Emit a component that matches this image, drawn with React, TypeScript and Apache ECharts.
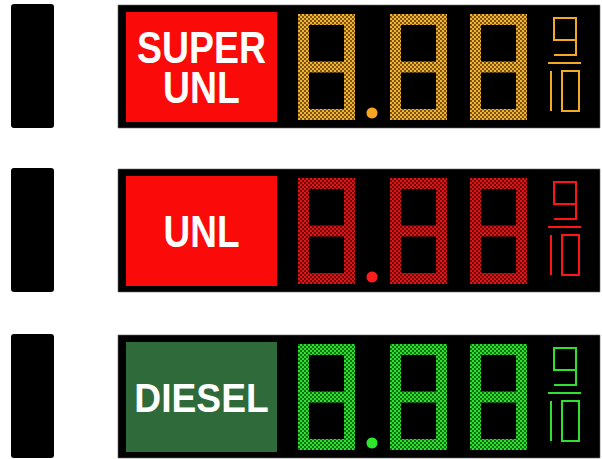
import React, { useEffect, useRef } from "react";
import * as echarts from "echarts";

// ---- data ----
const PANEL_LABELS = ["SUPER\nUNL", "UNL", "DIESEL"];
const PRICE_TEXT = "8.88";
const FRACTION_NUM = "9";
const FRACTION_DEN = "10";

// ---- styles ----
const BOX_COLORS = ["#fb0a0a", "#fb0a0a", "#2f6a3a"];
const LED_BRIGHT = ["#f2b232", "#e01414", "#2ee02e"];
const LED_DARK = ["#7a5410", "#6e0a0a", "#0f6e0f"];
const DOT_COLORS = ["#f6a623", "#ff1c1c", "#2ee62e"];
const FRAC_COLORS = ["#f2aa22", "#ff1414", "#30e030"];
const LABEL_STYLE = [
  { fontSize: 44, scaleX: 0.85, lineHeight: 40 },
  { fontSize: 44, scaleX: 0.84, lineHeight: 40 },
  { fontSize: 40, scaleX: 0.93, lineHeight: 40 },
];
const PANEL_TOPS = [5, 169, 335];

const SEGMENTS: Record<string, string> = { "8": "abcdefg", "9": "abcdfg", "0": "abcdef", "1": "bc" };

function ledPattern(bright: string, dark: string) {
  const c = document.createElement("canvas");
  c.width = 4;
  c.height = 4;
  const ctx = c.getContext("2d")!;
  ctx.fillStyle = dark;
  ctx.fillRect(0, 0, 4, 4);
  ctx.fillStyle = bright;
  ctx.fillRect(0, 0, 2, 2);
  ctx.fillRect(2, 2, 2, 2);
  return { image: c.toDataURL(), repeat: "repeat", imageWidth: 4, imageHeight: 4 } as any;
}

function digitRects(ch: string, dx: number, dy: number, w: number, h: number, t: number) {
  const segs = SEGMENTS[ch] || "";
  const half = h / 2;
  const map: Record<string, number[]> = {
    a: [dx, dy, w, t],
    d: [dx, dy + h - t, w, t],
    g: [dx, dy + (h - t) / 2, w, t],
    f: [dx, dy, t, half + t / 2],
    b: [dx + w - t, dy, t, half + t / 2],
    e: [dx, dy + half - t / 2, t, half + t / 2],
    c: [dx + w - t, dy + half - t / 2, t, half + t / 2],
  };
  return segs.split("").map((s) => map[s]);
}

export default function App() {
  const ref = useRef<HTMLDivElement>(null);
  useEffect(() => {
    const chart = echarts.init(ref.current!, null, { renderer: "svg" });
    const elements: any[] = [];
    PANEL_TOPS.forEach((top, i) => {
      // left post
      elements.push({
        type: "rect",
        shape: { x: 11, y: top - 1, width: 43, height: 124, r: 3 },
        style: { fill: "#000" },
      });
      // panel
      elements.push({
        type: "rect",
        shape: { x: 118, y: top, width: 482, height: 123 },
        style: { fill: "#000", stroke: "#6a6a6a", lineWidth: 0.6 },
      });
      // label box
      elements.push({
        type: "rect",
        shape: { x: 126, y: top + 7, width: 151, height: 110 },
        style: { fill: BOX_COLORS[i] },
      });
      const ls = LABEL_STYLE[i];
      elements.push({
        type: "text",
        x: 201.5,
        y: top + 63,
        scaleX: ls.scaleX,
        style: {
          text: PANEL_LABELS[i],
          fill: "#ffffff",
          fontFamily: "Liberation Sans, Arial, sans-serif",
          fontWeight: "bold",
          fontSize: ls.fontSize,
          lineHeight: ls.lineHeight,
          textAlign: "center",
          textVerticalAlign: "middle",
        },
      });
      // price digits
      const pat = ledPattern(LED_BRIGHT[i], LED_DARK[i]);
      let x = 298;
      const dw = 57, dh = 106, th = 11, dyTop = top + 9;
      const chars = PRICE_TEXT.split("");
      chars.forEach((ch, k) => {
        if (ch === ".") {
          elements.push({
            type: "circle",
            shape: { cx: x + 17, cy: top + 108, r: 5.5 },
            style: { fill: DOT_COLORS[i] },
          });
          x += 35;
          return;
        }
        digitRects(ch, x, dyTop, dw, dh, th).forEach((r) => {
          elements.push({
            type: "rect",
            shape: { x: r[0], y: r[1], width: r[2], height: r[3] },
            style: { fill: pat },
          });
        });
        x += dw;
        if (k + 1 < chars.length && chars[k + 1] !== ".") x += 23;
      });
      // fraction
      const fc = FRAC_COLORS[i];
      const lineStyle = { stroke: fc, lineWidth: 2, fill: "none" };
      // numerator "9"
      FRACTION_NUM.split("").forEach(() => {
        const nx = 554, ny = top + 13, nw = 22, nh = 37, mid = ny + 22;
        elements.push({
          type: "polyline",
          shape: { points: [[nx + nw, mid], [nx, mid], [nx, ny], [nx + nw, ny], [nx + nw, ny + nh], [nx, ny + nh]] },
          style: lineStyle,
        });
      });
      // bar
      elements.push({
        type: "line",
        shape: { x1: 548, y1: top + 58, x2: 581, y2: top + 58 },
        style: { stroke: fc, lineWidth: 2 },
      });
      // denominator "10"
      const dTop = top + 66, dBot = top + 106;
      FRACTION_DEN.split("").forEach((ch, k) => {
        if (ch === "1") {
          elements.push({
            type: "line",
            shape: { x1: 551, y1: dTop, x2: 551, y2: dBot },
            style: { stroke: fc, lineWidth: 2 },
          });
        } else {
          elements.push({
            type: "polygon",
            shape: { points: [[562, dTop], [579, dTop], [579, dBot], [562, dBot]] },
            style: lineStyle,
          });
        }
      });
    });
    chart.setOption({
      animation: false,
      backgroundColor: "#ffffff",
      graphic: { elements },
    });
    return () => chart.dispose();
  }, []);
  return (
    <div
      ref={ref}
      style={{ position: "fixed", left: 0, top: 0, width: 602, height: 459 }}
    />
  );
}
